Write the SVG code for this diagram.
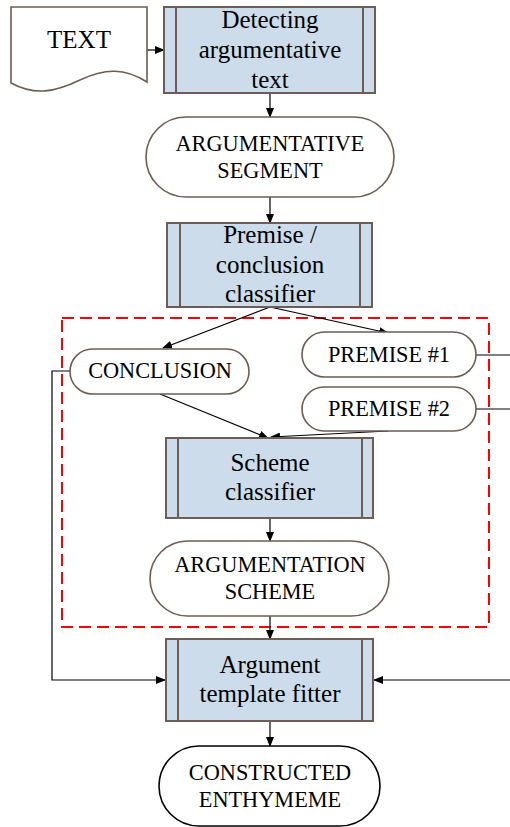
<svg xmlns="http://www.w3.org/2000/svg" width="510" height="827" viewBox="0 0 510 827">
<defs>
<marker id="ah" markerWidth="10" markerHeight="8" refX="9" refY="4" orient="auto" markerUnits="userSpaceOnUse">
<path d="M0,0 L10,4 L0,8 Z" fill="#000"/>
</marker>
<style>
.proc{fill:#ccdcea;stroke:#6e5c55;stroke-width:2}
.div{stroke:#6e5c55;stroke-width:2}
.term{fill:#fff;stroke:#6e5c55;stroke-width:1.6}
.doc{fill:#fff;stroke:#6e5c55;stroke-width:1.6}
text{font-family:'Liberation Serif','Times New Roman',Times,serif;fill:#000;text-anchor:middle}
.t{font-size:25px}
.u{font-size:22.3px}
.c{fill:none;stroke:#000;stroke-width:1.2}
</style>
</defs>
<rect x="62" y="318" width="427" height="309" fill="none" stroke="#ff0000" stroke-width="2" stroke-dasharray="12,6"/>
<g id="connectors">
<line class="c" x1="147" y1="50" x2="164" y2="50" marker-end="url(#ah)"/>
<line class="c" x1="270" y1="93" x2="270" y2="117" marker-end="url(#ah)"/>
<line class="c" x1="270" y1="197" x2="270" y2="223" marker-end="url(#ah)"/>
<line class="c" x1="270" y1="307" x2="163" y2="348" marker-end="url(#ah)"/>
<line class="c" x1="270" y1="307" x2="388" y2="333" marker-end="url(#ah)"/>
<line class="c" x1="160" y1="394" x2="268" y2="438" marker-end="url(#ah)"/>
<line class="c" x1="388" y1="431" x2="271" y2="437" marker-end="url(#ah)"/>
<line class="c" x1="270" y1="518" x2="270" y2="541" marker-end="url(#ah)"/>
<line class="c" x1="270" y1="616" x2="270" y2="639" marker-end="url(#ah)"/>
<line class="c" x1="270" y1="721" x2="270" y2="746" marker-end="url(#ah)"/>
<polyline class="c" points="70,371 52,371 52,680 165,680" marker-end="url(#ah)"/>
<line class="c" x1="476" y1="355" x2="510" y2="355"/>
<line class="c" x1="476" y1="409" x2="510" y2="409"/>
<line class="c" x1="510" y1="680" x2="374" y2="680" marker-end="url(#ah)"/>
</g>
<g id="text-doc">
<path class="doc" d="M11,7 H147 V82 C125,68 105,68 80,80 C55,92 35,96 11,83 Z"/>
<text class="t" x="79" y="48">TEXT</text>
</g>
<g id="detecting">
<rect class="proc" x="164" y="7" width="211" height="86"/>
<line class="div" x1="176" y1="7" x2="176" y2="93"/>
<line class="div" x1="363" y1="7" x2="363" y2="93"/>
<text class="t" x="270" y="28">Detecting</text>
<text class="t" x="270" y="58">argumentative</text>
<text class="t" x="270" y="88">text</text>
</g>
<g id="arg-segment">
<rect class="term" x="146" y="117" width="248" height="80" rx="40"/>
<text class="u" x="270" y="151">ARGUMENTATIVE</text>
<text class="u" x="270" y="178">SEGMENT</text>
</g>
<g id="premise-classifier">
<rect class="proc" x="167" y="223" width="205" height="84"/>
<line class="div" x1="180" y1="223" x2="180" y2="307"/>
<line class="div" x1="360" y1="223" x2="360" y2="307"/>
<text class="t" x="270" y="243">Premise /</text>
<text class="t" x="270" y="273">conclusion</text>
<text class="t" x="270" y="302">classifier</text>
</g>
<g id="conclusion">
<rect class="term" x="70" y="349" width="179" height="45" rx="22.5"/>
<text class="u" x="160" y="378">CONCLUSION</text>
</g>
<g id="premise1">
<rect class="term" x="302" y="332" width="174" height="45" rx="22.5"/>
<text class="u" x="389" y="362">PREMISE #1</text>
</g>
<g id="premise2">
<rect class="term" x="302" y="387" width="174" height="44" rx="22"/>
<text class="u" x="389" y="416">PREMISE #2</text>
</g>
<g id="scheme-classifier">
<rect class="proc" x="166" y="438" width="207" height="80"/>
<line class="div" x1="178" y1="438" x2="178" y2="518"/>
<line class="div" x1="362" y1="438" x2="362" y2="518"/>
<text class="t" x="270" y="471">Scheme</text>
<text class="t" x="270" y="500">classifier</text>
</g>
<g id="arg-scheme">
<rect class="term" x="150" y="541" width="239" height="75" rx="37.5"/>
<text class="u" x="270" y="572">ARGUMENTATION</text>
<text class="u" x="270" y="599">SCHEME</text>
</g>
<g id="template-fitter">
<rect class="proc" x="166" y="639" width="207" height="82"/>
<line class="div" x1="178" y1="639" x2="178" y2="721"/>
<line class="div" x1="362" y1="639" x2="362" y2="721"/>
<text class="t" x="270" y="673">Argument</text>
<text class="t" x="270" y="702">template fitter</text>
</g>
<g id="enthymeme">
<rect x="159" y="746" width="221" height="80" rx="40" fill="#fff" stroke="#000" stroke-width="1.6"/>
<text class="u" x="270" y="780">CONSTRUCTED</text>
<text class="u" x="270" y="807">ENTHYMEME</text>
</g>
</svg>
